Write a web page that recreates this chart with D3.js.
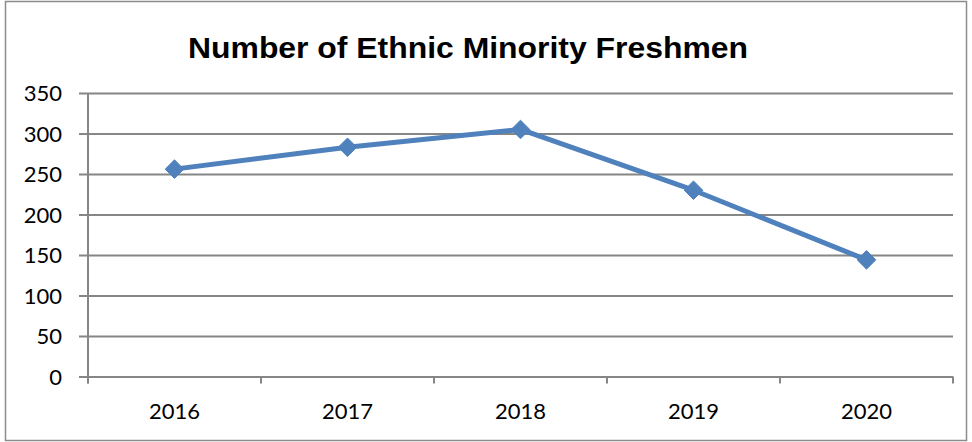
<!DOCTYPE html>
<html>
<head>
<meta charset="utf-8">
<script src="https://cdn.jsdelivr.net/npm/d3@7"></script>
<style>
  body { margin: 0; background: #fff; }
  svg text { font-family: Lato, "Open Sans", sans-serif; }
</style>
</head>
<body>
<svg id="chart" width="972" height="442"></svg>
<script>
var years = ["2016", "2017", "2018", "2019", "2020"];
var freshmen = [256, 283, 305, 230, 144];
var yTicks = [0, 50, 100, 150, 200, 250, 300, 350];
var chartTitle = "Number of Ethnic Minority Freshmen";

var svg = d3.select("#chart");
var plotL = 88, plotR = 953, plotT = 93, plotB = 376.5;

// outer frame
svg.append("rect").attr("x", 5.5).attr("y", 1.5).attr("width", 961).attr("height", 439)
  .attr("fill", "none").attr("stroke", "#8c8c8c").attr("stroke-width", 1.5);

svg.append("text").text(chartTitle)
  .attr("x", 468).attr("y", 58).attr("text-anchor", "middle")
  .attr("textLength", 560).attr("lengthAdjust", "spacingAndGlyphs")
  .style("font-family", "'Liberation Sans', Arial, sans-serif")
  .style("font-weight", "bold").style("font-size", "30px").attr("fill", "#000");

var x = d3.scaleBand().domain(years).range([plotL, plotR]);
var y = d3.scaleLinear().domain([0, 350]).range([plotB, plotT]);

// gridlines + y labels
var yAxis = d3.axisLeft(y).tickValues(yTicks).tickSize(-(plotR - plotL)).tickSizeOuter(0).tickPadding(26);
var gy = svg.append("g").attr("transform", "translate(" + plotL + ",0)").call(yAxis);
gy.select(".domain").remove();
gy.selectAll(".tick line").attr("stroke", "#868686").attr("stroke-width", 2).attr("x1", -9);
gy.selectAll(".tick text").attr("fill", "#000").style("font-size", "22px").attr("dy", "0.36em");

// vertical axis line
svg.append("line").attr("x1", plotL).attr("x2", plotL).attr("y1", plotT).attr("y2", plotB + 7)
  .attr("stroke", "#868686").attr("stroke-width", 2);

// x category ticks
var bounds = years.map(function(d) { return x(d); }).concat([plotR]);
svg.append("g").selectAll("line").data(bounds).enter().append("line")
  .attr("x1", function(d) { return d; }).attr("x2", function(d) { return d; })
  .attr("y1", plotB).attr("y2", plotB + 7)
  .attr("stroke", "#868686").attr("stroke-width", 2);

svg.append("g").selectAll("text").data(years).enter().append("text")
  .attr("x", function(d) { return x(d) + x.bandwidth() / 2; }).attr("y", 419)
  .attr("text-anchor", "middle").style("font-size", "22px").attr("fill", "#000")
  .text(function(d) { return d; });

// series line
var line = d3.line()
  .x(function(d, i) { return x(years[i]) + x.bandwidth() / 2; })
  .y(function(d) { return y(d); });
svg.append("path").datum(freshmen).attr("d", line)
  .attr("fill", "none").attr("stroke", "#4f81bd").attr("stroke-width", 5).attr("stroke-linejoin", "round");

// diamond markers
svg.append("g").selectAll("path").data(freshmen).enter().append("path")
  .attr("d", d3.symbol().type(d3.symbolDiamond2).size(220))
  .attr("transform", function(d, i) { return "translate(" + (x(years[i]) + x.bandwidth() / 2) + "," + y(d) + ")"; })
  .attr("fill", "#4f81bd").attr("stroke", "#4f81bd").attr("stroke-width", 1);
</script>
</body>
</html>
